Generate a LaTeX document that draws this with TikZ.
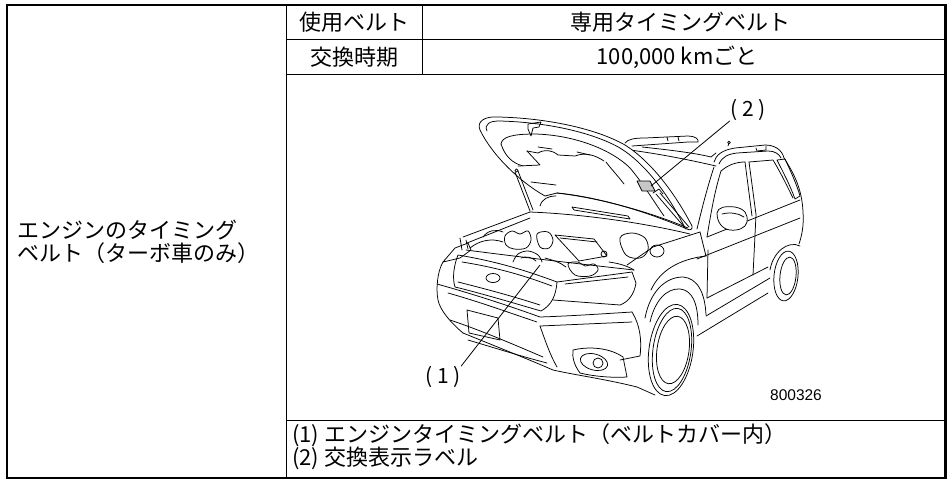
\documentclass[tikz,border=0pt]{standalone}
\usepackage{fontspec}
\newfontfamily\jp{Noto Sans CJK JP}
\newfontfamily\arialf{Liberation Sans}
\begin{document}
\begin{tikzpicture}[x=1pt,y=-1pt,
  grid/.style={line width=0.9pt},
  frame/.style={line width=2.6pt},
  car/.style={line width=0.75pt,line join=round,line cap=round},
  lead/.style={line width=0.8pt},
  cell/.style={font=\jp\fontsize{22}{23}\selectfont,inner sep=0pt},
  lbl/.style={font=\jp\fontsize{21}{22}\selectfont,inner sep=0pt}]
\useasboundingbox (0,0) rectangle (948,480);
\fill[white] (0,0) rectangle (948,480);
% ---------- table ----------
\draw[grid] (286,5) -- (286,478);
\draw[grid] (422.5,5) -- (422.5,74);
\draw[grid] (286,39.5) -- (945.5,39.5);
\draw[grid] (286,74) -- (945.5,74);
\draw[grid] (286,420) -- (945.5,420);
\draw[frame] (7,5) rectangle (945.5,478);
% ---------- texts ----------
\node[cell] (h1) at (354.5,22) {使用ベルト};
\node[cell] (h2) at (680,22) {専用タイミングベルト};
\node[cell] (h3) at (354.5,57) {交換時期};
\node[cell] (h4) at (677,57) {100,000 kmごと};
\node[cell,anchor=west,align=left] (lt) at (17,241.5) {エンジンのタイミング\\ベルト（ターボ車のみ）};
\node[cell,anchor=west,align=left] (ft) at (292,446.5) {(1) エンジンタイミングベルト（ベルトカバー内）\\(2) 交換表示ラベル};
\node[font=\arialf\fontsize{15.5}{17}\selectfont,inner sep=0pt] (code) at (796,395) {800326};
% ---------- car: roof, windows, body ----------
% far roof rail
\draw[car] (625,143) .. controls (628,139) and (635,138) .. (645,138) -- (688,136) .. controls (695,136) and (699,139) .. (698,142) -- (688,142) -- (632,146);
\draw[car] (667,137) -- (668,141) (678,137) -- (679,141);
% roof front / windshield top
\draw[car] (630,150) .. controls (660,154) and (690,160) .. (716,166);
\draw[car] (642,147) .. controls (670,150) and (695,153) .. (711,157) -- (716,153);
% near roof rail
\draw[car] (714,162) .. controls (716,155) and (722,150) .. (735,148) -- (765,145) .. controls (775,145) and (782,150) .. (784,158);
\draw[car] (719,164) .. controls (722,157) and (728,154) .. (737,153) -- (768,151) .. controls (775,151) and (779,154) .. (781,158);
\draw[car] (756,148) -- (757,151) -- (766,150) -- (766,146);
\draw[car] (728,146) -- (729,143);
\draw[car] (729,142.5) circle[radius=1.3pt];
% A-pillar and windows
\draw[car] (714,167) .. controls (708,185) and (702,208) .. (697,229);
\draw[car] (721,171) .. controls (715,190) and (711,212) .. (707,237);
\draw[car] (721,171) .. controls (728,165) and (736,162) .. (745,162);
\draw[car] (745,162) -- (752,216) (749,162) -- (756,214.5);
\draw[car] (707,237) -- (800,200);
\draw[car] (749,162) -- (773,160) .. controls (782,175) and (788,188) .. (793,198);
\draw[car] (777,160) -- (785,159) .. controls (791,172) and (797,185) .. (800,196) -- (795,199) .. controls (790,185) and (783,172) .. (777,160);
\draw[car] (784,158) .. controls (795,175) and (802,190) .. (803,212) .. controls (804,225) and (802,235) .. (799,244);
% mirror
\draw[car,fill=white] (717,213) .. controls (718,207) and (725,206) .. (735,207) .. controls (745,209) and (748,214) .. (747,222) .. controls (746,228) and (738,231) .. (730,230) .. controls (722,229) and (717,222) .. (717,213) -- cycle;
\draw[car] (722,214) .. controls (730,212) and (738,213) .. (744,217);
% side body
\draw[car] (697,259) -- (800,218);
\draw[car] (708,250) -- (707,298);
\draw[car] (756,215) -- (753,275);
\draw[car] (707,298) -- (768,267);
\draw[car] (706,316) -- (770,278);
\draw[car] (697,336) -- (768,293);
\draw[car] (700,232) -- (706,256);
% rear wheel
\draw[car] (770,270) .. controls (773,252) and (788,240) .. (800,246);
\draw[car,rotate around={-6:(786,276)}] (786,276) ellipse[x radius=12pt,y radius=25pt];
\draw[car,rotate around={-6:(788,276)}] (788,276) ellipse[x radius=8pt,y radius=19pt];
% front wheel
\draw[car] (651,290) .. controls (660,270) and (680,259) .. (706,256);
\draw[car] (645,318) .. controls (650,292) and (665,277) .. (683,277) .. controls (697,278) and (705,292) .. (706,315);
\draw[car] (650,322) .. controls (655,300) and (667,288) .. (680,289) .. controls (692,290) and (698,303) .. (698,325);
\draw[car,fill=white,rotate around={-8:(671,350)}] (671,350) ellipse[x radius=22pt,y radius=46pt];
\draw[car,rotate around={-8:(672,350)}] (672,350) ellipse[x radius=19pt,y radius=42pt];
\draw[car,rotate around={-8:(673,350)}] (673,350) ellipse[x radius=16pt,y radius=34pt];
% ---------- front face ----------
% far fender and headlight
\draw[car] (443,262) .. controls (437,272) and (436,290) .. (438,300) .. controls (440,310) and (450,322) .. (463,333);
\draw[car] (443,262) -- (455,248) -- (468,243) -- (471,250) -- (460,258) -- cycle;
\draw[car] (463,237) -- (530,212) (467,243) -- (530,218);
\draw[car] (460,238) -- (462,250) (466,240) -- (468,249);
% engine bay front edge
\draw[car] (466,250) .. controls (520,257) and (580,264) .. (634,270);
% grille
\draw[car] (458,255) .. controls (500,262) and (530,272) .. (557,282) .. controls (556,295) and (552,305) .. (541,311) .. controls (510,302) and (480,293) .. (455,287) .. controls (452,278) and (454,265) .. (458,255) -- cycle;
\draw[car] (462,262) .. controls (500,268) and (528,277) .. (552,286);
\draw[car] (458,282) .. controls (490,290) and (515,297) .. (540,305);
\draw[car] (493,278) ellipse[x radius=7pt,y radius=4.5pt];
% near headlight and fender
\draw[car] (557,282) -- (632,272) -- (636,283) .. controls (634,295) and (628,302) .. (620,305) -- (553,300);
\draw[car] (565,284) -- (628,277);
\draw[car] (627,265) -- (653,247) -- (700,232);
\draw[car] (657,251) ellipse[x radius=7pt,y radius=6pt];
% bumper
\draw[car] (437,284) .. controls (480,296) and (515,308) .. (540,317) .. controls (570,316) and (600,314) .. (632,312);
\draw[car] (448,293) .. controls (480,302) and (510,313) .. (537,322);
\draw[car] (467,310) -- (498,318) -- (500,340) -- (469,333) -- cycle;
\draw[car] (540,326) -- (632,322);
\draw[car] (540,326) .. controls (545,340) and (550,355) .. (557,367);
\draw[car] (450,320) .. controls (480,330) and (515,345) .. (543,357);
\draw[car] (468,340) .. controls (495,348) and (520,356) .. (547,363);
\draw[car] (463,333) .. controls (500,348) and (530,360) .. (553,370) .. controls (575,375) and (605,379) .. (637,387) -- (655,395);
\draw[car] (632,312) .. controls (640,325) and (642,340) .. (640,356) -- (620,360);
\draw[car] (573,350) .. controls (590,346) and (610,348) .. (623,357) -- (627,377) .. controls (610,378) and (592,376) .. (580,373) .. controls (574,365) and (572,357) .. (573,350) -- cycle;
\draw[car,rotate around={-15:(594,362)}] (594,362) ellipse[x radius=14pt,y radius=8pt];
\draw[car] (598,363) circle[radius=5pt];
% engine bay parts
\draw[car] plot[smooth cycle,tension=0.6] coordinates {(505,236) (512,231) (520,234) (528,231) (531,240) (526,248) (514,249) (506,245)};
\draw[car] plot[smooth cycle,tension=0.6] coordinates {(537,234) (548,232) (553,240) (549,248) (540,247)};
\draw[car] (555,235) -- (594,239) -- (607,256) -- (579,261) -- cycle;
\draw[car] (560,238) -- (597,242);
\draw[car] (604,254) circle[radius=3pt];
\draw[car] plot[smooth,tension=0.6] coordinates {(513,262) (518,254) (528,251) (538,255) (542,262)};
\draw[car] (521,258) .. controls (526,256) and (532,257) .. (536,261);
\draw[car] plot[smooth cycle,tension=0.6] coordinates {(568,264) (578,262) (585,266) (594,264) (598,270) (590,276) (575,275)};
\draw[car] plot[smooth cycle,tension=0.6] coordinates {(620,238) (632,233) (645,238) (648,250) (640,258) (626,255)};
\draw[car] (470,248) .. controls (480,240) and (492,238) .. (503,242);
\draw[car] (545,258) .. controls (552,260) and (560,262) .. (566,267);
\draw[car] (609,262) .. controls (616,263) and (626,265) .. (634,270);
\draw[car] (483,237) .. controls (488,230) and (496,229) .. (503,232);
% cowl and wiper
\draw[car] (530,212) .. controls (580,214) and (640,222) .. (690,234);
\draw[car] (572,207) -- (628,216) -- (630,219) -- (574,210) -- cycle;
% ---------- hood (raised) ----------
\draw[car,fill=white] (480,130) .. controls (476,121) and (486,116) .. (498,117)
  .. controls (545,118) and (595,128) .. (625,145)
  .. controls (652,162) and (676,195) .. (692,226)
  .. controls (693,229) and (690,231) .. (687,229)
  .. controls (650,213) and (600,197) .. (557,193)
  -- (545,196)
  .. controls (520,182) and (492,155) .. (480,130) -- cycle;
\draw[car] (487,131) .. controls (484,124) and (490,121) .. (499,121)
  .. controls (545,122) and (592,132) .. (620,148)
  .. controls (646,164) and (669,196) .. (684,226);
\draw[car] (501,144) .. controls (502,137) and (512,134) .. (535,134)
  .. controls (575,135) and (612,150) .. (630,168)
  .. controls (642,182) and (655,203) .. (664,216);
\draw[car] (501,144) .. controls (505,156) and (512,163) .. (523,166);
\draw[car] (527,151) -- (538,153) .. controls (545,149) and (552,150) .. (558,155) -- (575,156) .. controls (585,152) and (595,155) .. (604,161);
\draw[car] (527,151) -- (540,165) -- (518,166);
\draw[car] (531,182) -- (556,185);
\draw[car] (606,162) .. controls (612,170) and (618,176) .. (624,184);
\draw[car] (538,147) -- (552,149) (577,152) -- (590,155);
\draw[car] (528,124) -- (541,122) -- (539,127) -- (533,128) -- (531,136) -- (528,129) -- cycle;
\draw[car] (557,193) .. controls (600,198) and (650,212) .. (688,228);
% label (2)
\fill[black!22] (637,181) -- (650,181) -- (655,191) -- (642,191) -- cycle;
\draw[car] (637,181) -- (650,181) -- (655,191) -- (642,191) -- cycle;
% struts
\draw[car] (515,172) -- (530,211) (518,171) -- (533,210);
\draw[car] (516.5,170.5) circle[radius=1.6pt];
\draw[car] (540,206) .. controls (542,199) and (548,196) .. (556,196);
\draw[car] (656,194) -- (686,229) (660,193) -- (689,227);
\draw[car] (653,193) -- (659,189) -- (663,194);
% ---------- callouts ----------
\node[lbl] (l1) at (443,377) {(\kern5pt1\kern5pt)};
\node[lbl] (l2) at (748,110) {(\kern5pt2\kern5pt)};
\coordinate (p1) at (540,265);
\coordinate (p2) at (651,186);
\draw[lead] (l1.north east) -- (p1);
\draw[lead] (l2.south west) -- (p2);
\end{tikzpicture}
\end{document}
